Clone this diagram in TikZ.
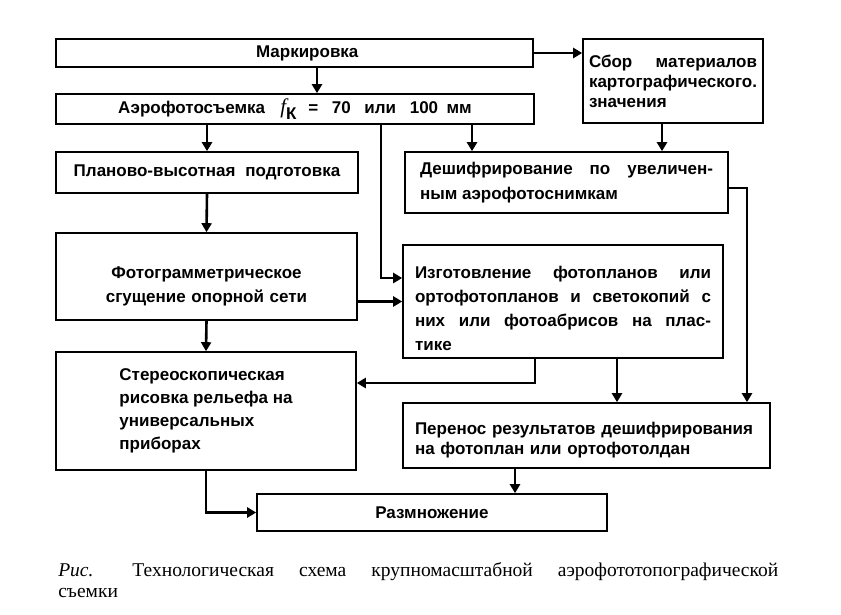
\documentclass[tikz,border=0pt]{standalone}
\usepackage{fontspec}
\setmainfont{Liberation Serif}
\newfontfamily\sansbold{Liberation Sans}
\usetikzlibrary{arrows.meta,positioning,calc}

\begin{document}
\begin{tikzpicture}[->, >={Triangle[length=9pt,width=10pt]}, x=1pt, y=-1pt, line width=2.6pt]
\tikzstyle{box}=[draw=black, line width=1.6pt, fill=white, inner sep=0pt, font=\sansbold\bfseries\fontsize{17}{22.8}\selectfont]
\useasboundingbox (0,0) rectangle (841,615);
\node[box, minimum width=477pt, minimum height=28pt] (mark) at (294.5,53) {\hspace{1.5em}Маркировка};
\node[box, minimum width=478pt, minimum height=30pt] (aero) at (295,109)
  {Аэрофотосъемка\hspace{0.9em}{\normalfont\itshape\fontsize{21}{22}\selectfont f}\raisebox{-6pt}{К}\hspace{0.7em}=\hspace{0.8em}70\hspace{0.8em}или\hspace{0.8em}100\hspace{0.5em}мм};
\node[box, minimum height=84pt, text width=168pt, inner xsep=6pt, align=justify, font=\sansbold\bfseries\fontsize{17}{20}\selectfont] (sbor) at (673,81)
  {Сбор материалов\linebreak картографического.\newline значения};
\node[box, minimum width=302pt, minimum height=41pt] (plan) at (207,172.5) {Планово-высотная\hspace{0.3em} подготовка};
\node[box, minimum height=61pt, text width=293pt, inner xsep=15pt, align=justify, font=\sansbold\bfseries\fontsize{17}{25}\selectfont] (deshif) at (566.5,182.5)
  {Дешифрирование по увеличен-\linebreak ным аэрофотоснимкам};
\node[box, minimum height=87pt, text width=301pt, align=center, font=\sansbold\bfseries\fontsize{17}{24}\selectfont] (fotogr) at (206.5,276.5)
  {\rule{0pt}{32pt}Фотограмметрическое\\сгущение опорной сети};
\node[box, minimum height=113pt, text width=296pt, inner xsep=12pt, align=justify, font=\sansbold\bfseries\fontsize{17}{24}\selectfont] (izgot) at (563,301.5)
  {\rule{0pt}{26pt}Изготовление фотопланов или\linebreak ортофотопланов и светокопий с\linebreak них или фотоабрисов на плас-\linebreak тике};
\node[box, minimum width=300pt, minimum height=118pt, align=left] (stereo) at (206,411)
  {Стереоскопическая\\рисовка рельефа на\\универсальных\\приборах};
\node[box, minimum height=65pt, text width=343pt, inner xsep=12pt, align=left, font=\sansbold\bfseries\fontsize{17}{20}\selectfont] (perenos) at (586.5,435.5)
  {\rule{0pt}{22pt}Перенос результатов дешифрирования\\на фотоплан или ортофотолдан};
\node[box, minimum width=350pt, minimum height=37pt] (razm) at (432,512.5) {Размножение};

\coordinate (m1) at ([xshift=22.5pt]mark.south);
\coordinate (a1) at ([xshift=-94.5pt]deshif.north);
\coordinate (s1) at ([xshift=-11pt]sbor.south);
\coordinate (a2) at ([xshift=86pt]aero.south);
\coordinate (i1) at ([yshift=23.5pt]izgot.west);
\coordinate (d1) at ([yshift=-5.5pt]deshif.east);
\coordinate (p1) at ([xshift=160.5pt]perenos.north);
\coordinate (i2) at ([xshift=-28pt]izgot.south);
\coordinate (st1) at ([yshift=28pt]stereo.east);
\coordinate (i3) at ([xshift=54pt]izgot.south);
\coordinate (r1) at ([xshift=83pt]razm.north);

\path
(m1)                  edge (m1 |- aero.north)
(mark.east)           edge (mark.east -| sbor.west)
(plan.north |- aero.south) edge (plan.north)
(a1 |- aero.south)    edge (a1)
(s1)                  edge (s1 |- deshif.north)
(plan.south)          edge (fotogr.north)
(izgot.west -| fotogr.east) edge (izgot.west)
(fotogr.south)        edge (stereo.north)
(i3)                  edge (i3 |- perenos.north)
(r1 |- perenos.south) edge (r1);
\draw (a2) |- (i1);
\draw (d1) -| (p1);
\draw (i2) |- (st1);
\draw (stereo.south) |- (razm.west);

\node[anchor=north west, text width=720pt, align=justify, inner sep=0pt, font=\fontsize{19.5}{21.5}\selectfont] (cap) at (57,561)
  {\textit{Рис.}\hspace{2em}Технологическая схема крупномасштабной аэрофототопографической\linebreak съемки};
\end{tikzpicture}
\end{document}
